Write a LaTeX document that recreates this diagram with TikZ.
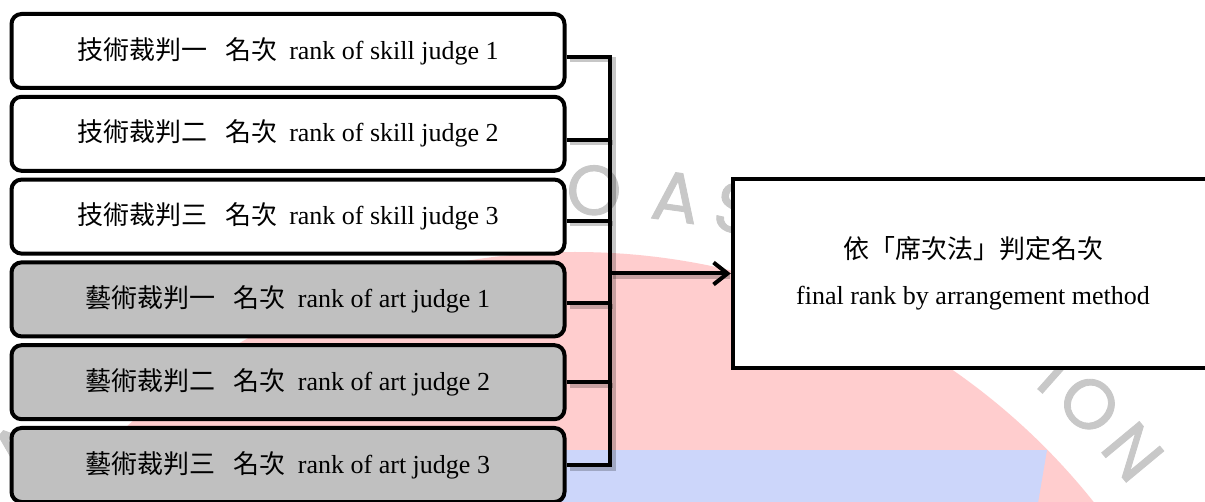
\documentclass[tikz,border=0pt]{standalone}
\usepackage{fontspec}
\setmainfont{Liberation Serif}
\newfontfamily\cjk{Noto Sans CJK TC}
\newfontfamily\wmfont{Poppins}[FakeBold=1.2]
\usetikzlibrary{arrows.meta,calc}
\definecolor{artgray}{RGB}{192,192,192}
\definecolor{wmpink}{RGB}{255,205,206}
\definecolor{wmblue}{RGB}{204,214,250}
\definecolor{wmgray}{RGB}{200,200,200}
\begin{document}
\begin{tikzpicture}[x=1pt,y=-1pt,
  judge/.style={draw=black, line width=4pt, rounded corners=10pt,
    minimum width=553pt, minimum height=74pt, inner sep=0pt,
    font=\fontsize{26}{31}\selectfont},
  skill/.style={judge, fill=white},
  art/.style={judge, fill=artgray},
  result/.style={draw=black, line width=4.5pt, fill=white,
    minimum width=480pt, minimum height=189pt, inner sep=0pt,
    align=center, font=\fontsize{26}{31}\selectfont},
  bus/.style={draw=black, line width=4pt},
  busshadow/.style={draw=black, opacity=0.22, line width=5pt,
    transform canvas={shift={(3pt,-3pt)}}},
  wm/.style={text=wmgray, inner sep=0pt, font=\wmfont\fontsize{70}{70}\selectfont},
  tip/.style={-{Straight Barb[length=14pt,width=22pt]}}
]
\useasboundingbox (0,0) rectangle (1205,502);
\fill[white] (0,0) rectangle (1205,502);
% watermark
\fill[wmpink] (575,915) circle[radius=663pt];
\fill[wmblue] (300,450) -- (1047,450) -- (1038,503) -- (300,503) -- cycle;
\foreach \ch/\a [count=\i] in {O/88.5, A/82.0, S/77.2, I/48.4, O/44.8, N/39.7, A/140}
  \node[wm, rotate=\a-90] (wm\i) at ({575+725*cos(\a)},{915-725*sin(\a)}) {\ch};

% boxes
\node[skill] (b1) at (288,51)    {{\cjk 技術裁判一\hspace{18pt}名次}\hspace{12pt}rank of skill judge 1};
\node[skill] (b2) at (288,133.8) {{\cjk 技術裁判二\hspace{18pt}名次}\hspace{12pt}rank of skill judge 2};
\node[skill] (b3) at (288,216.6) {{\cjk 技術裁判三\hspace{18pt}名次}\hspace{12pt}rank of skill judge 3};
\node[art]   (b4) at (288,299.4) {{\cjk 藝術裁判一\hspace{18pt}名次}\hspace{12pt}rank of art judge 1};
\node[art]   (b5) at (288,382.2) {{\cjk 藝術裁判二\hspace{18pt}名次}\hspace{12pt}rank of art judge 2};
\node[art]   (b6) at (288,465)   {{\cjk 藝術裁判三\hspace{18pt}名次}\hspace{12pt}rank of art judge 3};

\coordinate (s1) at ([yshift=-6pt]b1.east);
\coordinate (s2) at ([yshift=-6pt]b2.east);
\coordinate (s3) at ([yshift=-4pt]b3.east);
\coordinate (s4) at ([yshift=-4pt]b4.east);
\coordinate (s5) at (b5.east);
\coordinate (bt) at (610,57);
\coordinate (bb) at (610,465);

% shadows of connectors
\path[busshadow] (s1) -- (bt) -- (bb) -- (b6.east);
\foreach \b in {s2,s3,s4,s5}
  \path[busshadow] (\b) -- (\b -| bt);

\node[result] (rb) at (973,273.5) {{\cjk 依「席次法」判定名次}\\[15pt]final rank by arrangement method};

\path[busshadow] (rb.west -| bt) -- ([xshift=-4pt]rb.west);

% connectors
\draw[bus] (s1) -- (bt) -- (bb) -- (b6.east);
\foreach \b in {s2,s3,s4,s5}
  \draw[bus] (\b) -- (\b -| bt);
\draw[bus, tip] (rb.west -| bt) -- (rb.west);
\end{tikzpicture}
\end{document}
